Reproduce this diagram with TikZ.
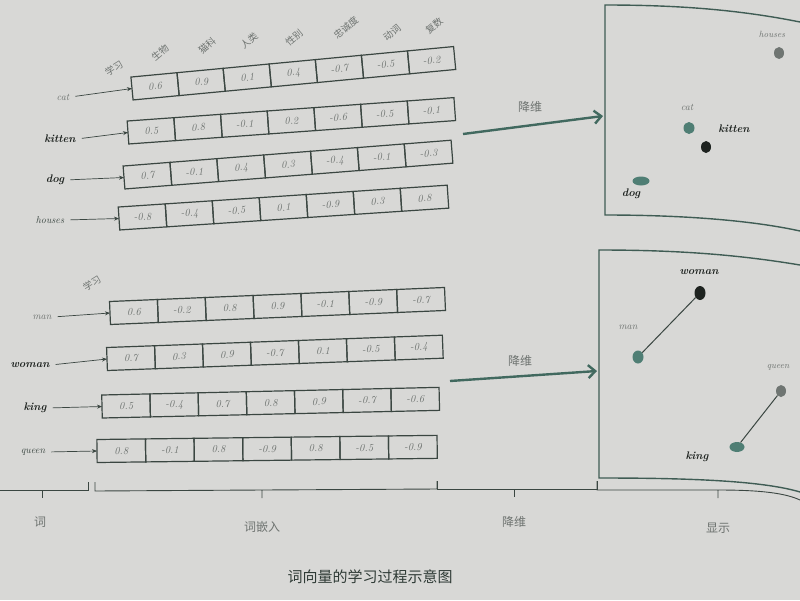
\documentclass[tikz,border=0pt]{standalone}
\usepackage{fontspec}
\newfontfamily\cjk{Noto Sans CJK SC}
\usetikzlibrary{arrows.meta,shapes.geometric}
\definecolor{bg}{HTML}{D8D8D6}
\definecolor{ink}{HTML}{3A4641}
\definecolor{soft}{HTML}{6E7370}
\definecolor{tealdot}{HTML}{4F7E74}
\definecolor{graydot}{HTML}{6F7572}
\definecolor{darkdot}{HTML}{1E2320}
\definecolor{frame}{HTML}{3F5C54}
\definecolor{arrowc}{HTML}{41695F}
\definecolor{titlec}{HTML}{2F3B36}
\tikzset{
  cell/.style={draw=ink, line width=1.2pt, minimum height=23pt, inner sep=0pt,
    outer sep=0pt, transform shape, font=\itshape\fontsize{10.5}{12}\selectfont, text=soft},
  wlbl/.style={font=\itshape\fontsize{10}{12}\selectfont, text=soft, inner sep=1pt},
  wbold/.style={font=\bfseries\itshape\fontsize{11}{13}\selectfont, text=darkdot, inner sep=1pt},
  head/.style={font=\cjk\fontsize{9.5}{11}\selectfont, text=soft, rotate=40, inner sep=0pt},
  larrow/.style={draw=ink, line width=0.7pt, -{Stealth[length=5pt,width=4pt]}, shorten <=5pt},
  bigarrow/.style={draw=arrowc, line width=2.4pt, -{Straight Barb[length=7pt,width=13pt]}},
  dot/.style={ellipse, draw=none, inner sep=0pt, minimum width=10pt, minimum height=12pt},
  brace/.style={draw=ink, line width=0.9pt},
  blbl/.style={font=\cjk\fontsize{12}{14}\selectfont, text=soft},
  panel/.style={draw=frame, line width=1.4pt},
}
\newcommand\wordrow[6]{%
  \begin{scope}[shift={(#2,#3)}, rotate=#4]
    \foreach \v [count=\i] in {#6} {
      \node[cell, minimum width=#5pt] (#1-\i) at ({(\i-1)*#5+#5/2},0) {\v};
    }
  \end{scope}}
\begin{document}
\begin{tikzpicture}[x=1pt,y=-1pt]
\fill[bg] (0,0) rectangle (800,600);
\useasboundingbox (0,0) rectangle (800,600);

% header
\node[head, rotate=-8] (hl1) at (114,68) {学习};
\node[head] (h1) at (160,53) {生物};
\node[head] (h2) at (207,46) {猫科};
\node[head] (h3) at (249,41) {人类};
\node[head] (h4) at (294,38) {性别};
\node[head] (h5) at (346,28) {忠诚度};
\node[head] (h6) at (392,33) {动词};
\node[head] (h7) at (434,26) {复数};

% rows, group 1
\wordrow{cat}{132}{88.5}{5.4}{46.3}{0.6,0.9,0.1,0.4,-0.7,-0.5,-0.2}
\wordrow{kitten}{128}{132.5}{4.1}{46.8}{0.5,0.8,-0.1,0.2,-0.6,-0.5,-0.1}
\wordrow{dog}{124}{177.5}{4.5}{47.0}{0.7,-0.1,0.4,0.3,-0.4,-0.1,-0.3}
\wordrow{houses}{119}{218.5}{3.8}{47.1}{-0.8,-0.4,-0.5,0.1,-0.9,0.3,0.8}

\node[wlbl] (lcat) at (63,97) {cat};
\node[wbold] (lkitten) at (60,139) {kitten};
\node[wbold] (ldog) at (55,180) {dog};
\node[wlbl, text=ink] (lhouses) at (50,220) {houses};
\draw[larrow] (lcat.east) -- (cat-1.west);
\draw[larrow] (lkitten.east) -- (kitten-1.west);
\draw[larrow] (ldog.east) -- (dog-1.west);
\draw[larrow] (lhouses.east) -- (houses-1.west);

% rows, group 2
\node[head, rotate=-8] (hl2) at (92,283) {学习};
\wordrow{man}{110}{313}{2.4}{47.9}{0.6,-0.2,0.8,0.9,-0.1,-0.9,-0.7}
\wordrow{woman}{107}{359}{2.1}{48.0}{0.7,0.3,0.9,-0.7,0.1,-0.5,-0.4}
\wordrow{king}{102}{406.5}{1.3}{48.2}{0.5,-0.4,0.7,0.8,0.9,-0.7,-0.6}
\wordrow{queen}{97}{451}{0.7}{48.6}{0.8,-0.1,0.8,-0.9,0.8,-0.5,-0.9}

\node[wlbl] (lman) at (42,317) {man};
\node[wbold] (lwoman) at (30,365) {woman};
\node[wbold] (lking) at (35,408) {king};
\node[wlbl, text=ink] (lqueen) at (33,452) {queen};
\draw[larrow] (lman.east) -- (man-1.west);
\draw[larrow] (lwoman.east) -- (woman-1.west);
\draw[larrow] (lking.east) -- (king-1.west);
\draw[larrow] (lqueen.east) -- (queen-1.west);

% reduction arrows
\coordinate (a1s) at (463,134);
\coordinate (a1e) at (603,116);
\draw[bigarrow] (a1s) -- (a1e);
\node[blbl] (r1) at (530,107) {降维};
\coordinate (a2s) at (450,381);
\coordinate (a2e) at (597,371);
\draw[bigarrow] (a2s) -- (a2e);
\node[blbl] (r2) at (520,361) {降维};

% panel 1
\draw[panel] (800,22) .. controls (740,10) and (680,5) .. (605,5) -- (605,215)
  .. controls (680,215) and (750,220) .. (800,231);
\node[wlbl, font=\itshape\fontsize{9}{11}\selectfont] (thouses) at (772,34) {houses};
\node[dot, fill=graydot] (phouses) at (779,53) {};
\node[wlbl] (tcat) at (687,107) {cat};
\node[dot, fill=tealdot, minimum width=11pt, minimum height=12pt] (pcat) at (689,128) {};
\node[wbold] (tkitten) at (734,129) {kitten};
\node[dot, fill=darkdot] (pkitten) at (706,147) {};
\node[dot, fill=tealdot, minimum width=17pt, minimum height=9pt] (pdog) at (641,181) {};
\node[wbold] (tdog) at (631,194) {dog};

% panel 2
\draw[panel] (800,265) .. controls (740,255) and (680,250) .. (599,250) -- (599,478)
  .. controls (680,478) and (760,480) .. (800,492);
\node[wbold] (twoman) at (699,272) {woman};
\node[dot, fill=darkdot, minimum width=11pt, minimum height=14pt] (pwoman) at (700,293) {};
\node[wlbl] (tman) at (628,327) {man};
\node[dot, fill=tealdot, minimum width=11pt, minimum height=13pt] (pman) at (638,357) {};
\draw[ink, line width=1pt] (pman) -- (pwoman);
\node[wlbl, font=\itshape\fontsize{9}{11}\selectfont] (tqueen) at (778,367) {queen};
\node[dot, fill=graydot] (pqueen) at (781,391) {};
\node[dot, fill=tealdot, minimum width=15pt, minimum height=10pt] (pking) at (737,447) {};
\node[wbold] (tking) at (697,457) {king};
\draw[ink, line width=1pt] (pking) -- (pqueen);

% bottom braces
\draw[brace] (0,490) -- (42,490) -- (42,498) (42,490) -- (88,490) -- (88,482);
\draw[brace] (95,482) -- (95,491) -- (262,490) -- (262,498) (262,490) -- (437,489) -- (437,481);
\draw[brace] (437,481) -- (437,489) -- (514,489) -- (514,497) (514,489) -- (597,489) -- (597,481);
\draw[brace] (597,481) -- (597,490) -- (718,490) -- (718,498) (718,490) .. controls (760,490) and (785,493) .. (800,500);
\node[blbl] (b1) at (40,522) {词};
\node[blbl] (b2) at (262,527) {词嵌入};
\node[blbl] (b3) at (514,522) {降维};
\node[blbl] (b4) at (718,528) {显示};
\node[font=\cjk\fontsize{15}{18}\selectfont, text=titlec] (title) at (370,577) {词向量的学习过程示意图};
\end{tikzpicture}
\end{document}
